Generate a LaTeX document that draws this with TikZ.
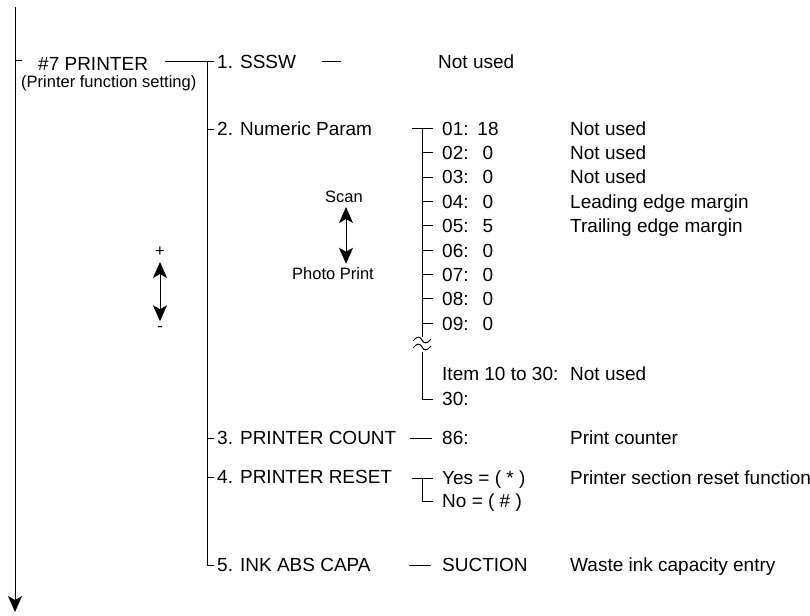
\documentclass[tikz,border=0pt]{standalone}
\usepackage{fontspec}
\setmainfont{Liberation Sans}
\usetikzlibrary{arrows.meta}
\tikzset{
    menutext/.style={anchor=west, inner sep=0pt, text height=13.5pt, text depth=0pt},
    valtext/.style={anchor=center, inner sep=0pt, text height=13.5pt, text depth=0pt},
    smalltext/.style={inner sep=0pt, font=\fontsize{16.5}{18}\selectfont},
    treeline/.style={line width=1pt},
    flowarrow/.style={-{Stealth[length=16pt,width=14pt,inset=4pt]}, line width=1pt},
    bothway/.style={{Stealth[length=16pt,width=14pt,inset=4pt]}-{Stealth[length=16pt,width=14pt,inset=4pt]}, line width=1pt}
}

\begin{document}
\begin{tikzpicture}[x=1pt, y=-1pt, font=\fontsize{19}{22}\selectfont]
    \useasboundingbox (0,0) rectangle (810,615);

    % menu header and main flow
    \coordinate (flowtop) at (15,7);
    \coordinate (flowend) at (15,612);
    \coordinate (menutick) at (15,61);
    \draw[flowarrow] (flowtop) -- (flowend);
    \draw[treeline] (menutick) -- ++(7,0);
    \node[menutext] (menu) at (38,64) {\#7 PRINTER};
    \node[smalltext, anchor=west] (menusub) at (21,83) {(Printer function setting)};

    % first level
    \node[menutext] (sssw) at (217,62) {1. SSSW};
    \node[menutext] (numparam) at (217,129) {2. Numeric Param};
    \node[menutext] (prcount) at (217,438) {3. PRINTER COUNT};
    \node[menutext] (prreset) at (217,477) {4. PRINTER RESET};
    \node[menutext] (inkcapa) at (217,565) {5. INK ABS CAPA};

    \coordinate (menuout) at (165,62);
    \coordinate (branch) at (207,62);
    \draw[treeline] (menuout) -- ([xshift=-3pt]sssw.west);
    \draw[treeline] (branch) |- ([xshift=-3pt]inkcapa.west);
    \draw[treeline] (branch |- numparam.west) -- ([xshift=-3pt]numparam.west);
    \draw[treeline] (branch |- prcount.west) -- ([xshift=-3pt]prcount.west);
    \draw[treeline] (branch |- prreset.west) -- ([xshift=-3pt]prreset.west);

    % 1. SSSW
    \node[menutext] (ssswnote) at (438,62) {Not used};
    \draw[treeline] (322,62) -- (341,62);

    % 2. Numeric Param
    \coordinate (listtop) at (422,128.5);
    \draw[treeline] (412,128.5) -- (listtop);
    \foreach \n/\v [count=\k from 0] in {01/18,02/0,03/0,04/0,05/5,06/0,07/0,08/0,09/0} {
        \node[menutext] (item\n) at (442,128.5+24.35*\k) {\n:};
        \node[valtext] (val\n) at (488,128.5+24.35*\k) {\v};
        \draw[treeline] (listtop |- item\n.west) -- ([xshift=-9pt]item\n.west);
    }
    \node[menutext] (note01) at (570,128.5) {Not used};
    \node[menutext] (note02) at (570,152.85) {Not used};
    \node[menutext] (note03) at (570,177.2) {Not used};
    \node[menutext] (note04) at (570,201.55) {Leading edge margin};
    \node[menutext] (note05) at (570,225.9) {Trailing edge margin};

    \coordinate (listbreak) at (422,337);
    \draw[treeline] (listtop) -- (listbreak);
    \draw[treeline] (413,341) .. controls (417,336) and (420,336) .. (422,340)
        .. controls (424,344) and (427,344) .. (431,339);
    \draw[treeline] (413,348) .. controls (417,343) and (420,343) .. (422,347)
        .. controls (424,351) and (427,351) .. (431,346);

    \node[menutext] (itemrest) at (442,374) {Item 10 to 30:};
    \node[menutext] (item30) at (442,399) {30:};
    \node[menutext] (noterest) at (570,374) {Not used};
    \draw[treeline] (422,352) |- ([xshift=-9pt]item30.west);

    % scan direction
    \node[smalltext] (scan) at (344,197) {Scan};
    \node[smalltext] (photo) at (333,274) {Photo Print};
    \draw[bothway] ([yshift=-4pt]scan.south -| 346,0) -- ([yshift=4pt]photo.north -| 346,0);

    % +/- keys
    \node[smalltext] (plus) at (160,252) {+};
    \node[smalltext] (minus) at (160,329) {-};
    \draw[bothway] ([yshift=-5pt]plus.south) -- ([yshift=5pt]minus.north);

    % 3. PRINTER COUNT
    \node[menutext] (count) at (442,438) {86:};
    \node[menutext] (countnote) at (570,438) {Print counter};
    \draw[treeline] ([xshift=-32pt]count.west) -- ([xshift=-10pt]count.west);

    % 4. PRINTER RESET
    \node[menutext] (resetyes) at (442,478) {Yes = ( * )};
    \node[menutext] (resetno) at (442,501) {No = ( \# )};
    \node[menutext] (resetnote) at (570,478) {Printer section reset function};
    \coordinate (resetfork) at (422,478);
    \draw[treeline] ([xshift=-30pt]resetyes.west) -- ([xshift=-9pt]resetyes.west);
    \draw[treeline] (resetfork) |- ([xshift=-9pt]resetno.west);

    % 5. INK ABS CAPA
    \node[menutext] (suction) at (442,565) {SUCTION};
    \node[menutext] (suctionnote) at (570,565) {Waste ink capacity entry};
    \draw[treeline] ([xshift=-33pt]suction.west) -- ([xshift=-11pt]suction.west);
\end{tikzpicture}
\end{document}
